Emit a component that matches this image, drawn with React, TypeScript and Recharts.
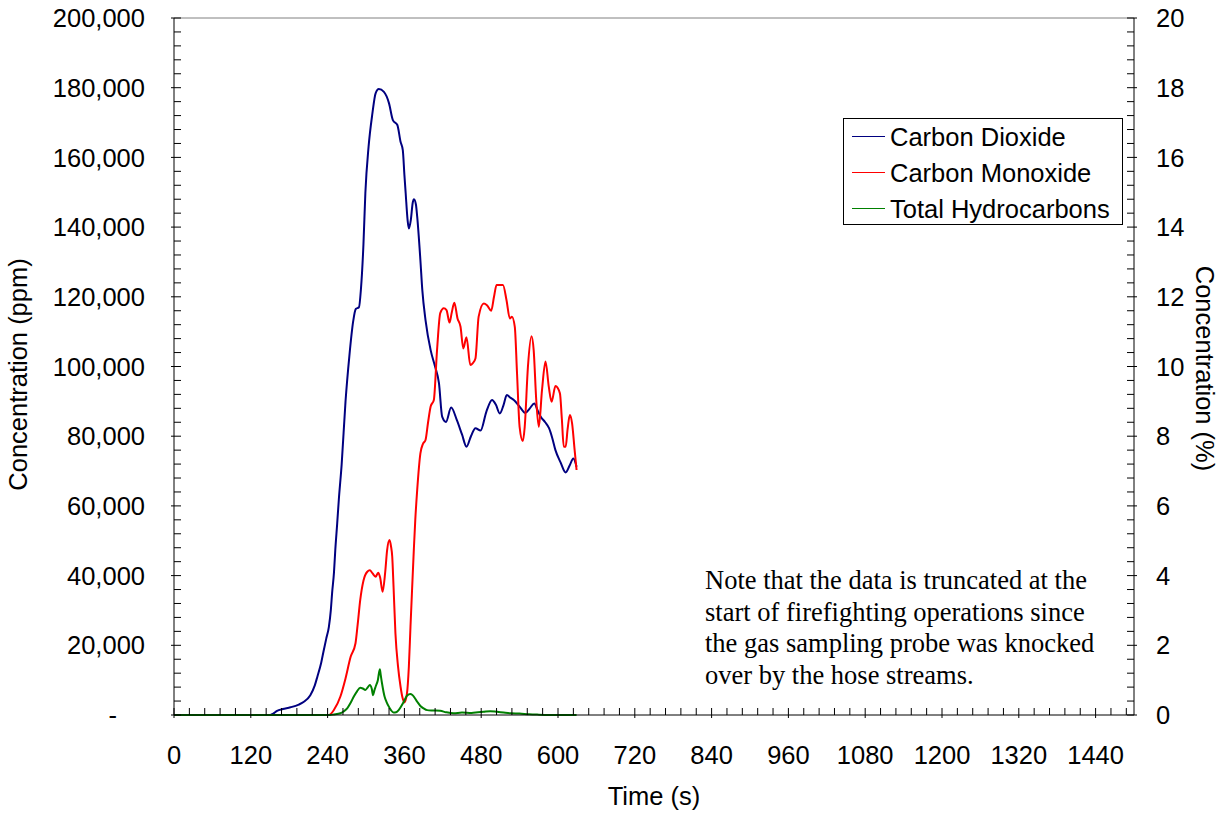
import React from 'react';
import { LineChart, Line, XAxis, YAxis, ReferenceLine, Legend } from 'recharts';

// [time (s), concentration (ppm)]
const carbonDioxide: [number, number][] = [
  [0, 0], [60, 0], [150, 0], [155, 400], [161, 1200], [170, 1700], [182, 2200], [195, 3000],
  [203, 3800], [213, 5700], [220, 8500], [224, 11000], [230, 15000], [234, 18600], [238, 22000],
  [242, 25300], [245, 30000], [247, 34900], [250, 41000], [252, 47300], [255, 55000], [257.5, 61700],
  [262, 72000], [268, 90000], [274, 103000], [280, 113000], [284, 116500], [289, 117000],
  [292, 122000], [296, 135000], [299, 149800], [304, 163000], [310, 172600], [315, 178400],
  [320, 179600], [328, 178800], [336, 175500], [342, 170700], [349, 169300], [354, 164500],
  [357.5, 162100], [360, 155000], [362, 149700], [365, 142000], [367, 139600], [370, 142000],
  [373, 147000], [375, 148000], [378, 146500], [380, 143000], [385, 130500], [388, 121900],
  [393, 113300], [401, 104700], [408, 99900], [414, 95200], [419, 85600], [425, 84100],
  [433, 88200], [442, 84600], [450, 80500], [457, 77000], [464, 80000], [471, 82300],
  [479, 81600], [488, 87000], [497, 90400], [503, 89000], [509, 86500], [515, 89000],
  [520, 91800], [526, 91000], [531, 90400], [540, 88500], [549, 86700], [556, 88000],
  [563, 89400], [568, 87500], [573, 85600], [580, 84000], [586, 82300], [591, 79500],
  [596, 76000], [604, 72500], [612, 69600], [618, 71500], [624, 73600], [629, 71200],
];

const carbonMonoxide: [number, number][] = [
  [0, 0], [242, 0], [250, 1500], [260, 5300], [268, 10500], [276, 16700], [283.6, 20600],
  [287, 26000], [291, 33000], [296, 38500], [302, 41100], [306, 41500], [310, 40700],
  [315, 39700], [319, 40800], [322, 39500], [326, 35400], [330, 41000], [333, 47300],
  [336.7, 50200], [339, 48500], [341, 45400], [343, 37000], [346, 23400], [350, 14000],
  [354, 8100], [357, 5000], [360, 3600], [364, 6200], [367, 14000], [369.5, 25300],
  [372, 36000], [374.7, 47300], [377, 56000], [380, 64600], [385, 75100], [389, 77800],
  [393, 78900], [397, 84000], [401, 88500], [406, 90400], [411, 104700], [416, 115300],
  [421.6, 116700], [425.8, 116200], [430.5, 112600], [434, 115500], [438, 118300],
  [443, 113800], [447.7, 111400], [452, 105200], [457, 108400], [463, 100400], [467, 101000],
  [471, 102300], [476, 114300], [484, 118100], [489, 117600], [495.6, 116000], [500, 120000],
  [504, 123400], [514, 123400], [519.5, 119100], [524.7, 113800], [528, 114300],
  [532.5, 111400], [536, 98000], [540, 82700], [545, 78600], [548, 82700], [553, 99900],
  [558.6, 108700], [562, 104700], [566, 90400], [570, 82700], [575, 93200], [580.5, 101400],
  [585.6, 94200], [590, 89900], [596, 94400], [603, 92300], [606, 85000], [609, 77000],
  [612, 77000], [615, 82000], [618.5, 86100], [622, 83700], [626, 76000], [629, 70300],
];

const totalHydrocarbons: [number, number][] = [
  [0, 0], [243, 0], [250, 150], [260, 500], [265, 1000], [270.6, 1900], [276, 3500],
  [281, 5300], [286, 6800], [291, 7800], [295, 7600], [299, 7200], [303, 8000], [306, 8600],
  [309, 7500], [311, 5700], [313, 7000], [315, 8100], [318.5, 10000], [321.6, 13100],
  [323, 11500], [325, 9100], [329, 5300], [332, 3800], [335.7, 2400], [339, 1400], [343, 700],
  [347, 800], [351, 1400], [355, 2500], [359, 3800], [364, 5500], [369.5, 6000], [372, 5800],
  [374.7, 5300], [380, 3800], [385, 2600], [390, 1900], [395.6, 1400], [405, 1300],
  [416, 1200], [425, 800], [437, 500], [450, 700], [465, 600], [475, 800], [484, 950],
  [494, 1100], [505, 900], [515, 700], [526, 500], [540, 400], [555, 200], [570, 100],
  [600, 0], [629, 0],
];

const xMajorTicks = [0, 120, 240, 360, 480, 600, 720, 840, 960, 1080, 1200, 1320, 1440];
const xMinorStep = 24;
const ppmMajorTicks = [0, 20000, 40000, 60000, 80000, 100000, 120000, 140000, 160000, 180000, 200000];
const ppmMinorStep = 4000;
const pctMajorTicks = [0, 2, 4, 6, 8, 10, 12, 14, 16, 18, 20];

const noteLines = [
  'Note that the data is truncated at the',
  'start of firefighting operations since',
  'the gas sampling probe was knocked',
  'over by the hose streams.',
];

const SANS = '"Liberation Sans", Arial, sans-serif';
const SERIF = '"Liberation Serif", "Times New Roman", serif';
const FS = 25.5;

const toRows = (pts: [number, number][]) => pts.map(([t, v]) => ({ t, v }));

const xTicks = Array.from({ length: Math.floor(1500 / xMinorStep) + 1 }, (_, i) => i * xMinorStep);
const ppmTicks = Array.from({ length: 200000 / ppmMinorStep + 1 }, (_, i) => i * ppmMinorStep);
const pctTicks = Array.from({ length: 51 }, (_, i) => Math.round(i * 4) / 10);

const XTick = (props: any) => {
  const { x, y, payload } = props;
  const major = xMajorTicks.includes(payload.value);
  return (
    <g>
      <line x1={x} x2={x} y1={y + (major ? 3 : 0)} y2={y - 7} stroke="#000" />
      {major && (
        <text x={x} y={y + 49} textAnchor="middle" fontSize={FS} fontFamily={SANS} fill="#000">
          {payload.value}
        </text>
      )}
    </g>
  );
};

const PpmTick = (props: any) => {
  const { x, y, payload } = props;
  const major = ppmMajorTicks.includes(payload.value);
  return (
    <g>
      <line x1={x - (major ? 3 : 0)} x2={x + 7} y1={y} y2={y} stroke="#000" />
      {major && (
        <text
          x={payload.value === 0 ? x - 57 : x - 29}
          y={y}
          dy="0.36em"
          textAnchor="end"
          fontSize={FS}
          fontFamily={SANS}
          fill="#000"
        >
          {payload.value === 0 ? '-' : payload.value.toLocaleString('en-US')}
        </text>
      )}
    </g>
  );
};

const PctTick = (props: any) => {
  const { x, y, payload } = props;
  const major = pctMajorTicks.some((m) => Math.abs(m - payload.value) < 1e-6);
  return (
    <g>
      <line x1={x + (major ? 3 : 0)} x2={x - 7} y1={y} y2={y} stroke="#000" />
      {major && (
        <text x={x + 22} y={y} dy="0.36em" textAnchor="start" fontSize={FS} fontFamily={SANS} fill="#000">
          {Math.round(payload.value)}
        </text>
      )}
    </g>
  );
};

const LegendBox = (props: any) => {
  const items = (props.payload || []) as any[];
  return (
    <div
      style={{
        position: 'relative',
        width: 280,
        height: 107,
        boxSizing: 'border-box',
        border: '1px solid #000',
        background: '#fff',
        fontFamily: SANS,
        fontSize: FS,
        color: '#000',
      }}
    >
      {items.map((it, i) => (
        <div key={it.value} style={{ position: 'absolute', left: 0, top: 35.8 * i, height: 36, width: '100%' }}>
          <div style={{ position: 'absolute', left: 8, top: 17, width: 33, height: 0, borderTop: `1.5px solid ${it.color}` }} />
          <div style={{ position: 'absolute', left: 46, top: 0, lineHeight: '36px', whiteSpace: 'nowrap' }}>{it.value}</div>
        </div>
      ))}
    </div>
  );
};

export default function App() {
  return (
    <div style={{ position: 'absolute', left: 0, top: 0, width: 1228, height: 813, background: '#fff' }}>
      <LineChart width={1228} height={813} margin={{ top: 18, right: 0, bottom: 0, left: 0 }}>
        <XAxis
          dataKey="t"
          type="number"
          domain={[0, 1500]}
          ticks={xTicks}
          interval={0}
          height={98}
          tickSize={0}
          tickMargin={0}
          tickLine={false}
          tick={<XTick />}
          axisLine={{ stroke: '#000' }}
          allowDuplicatedCategory={false}
          label={(p: any) => {
            const vb = p.viewBox || { x: 174, y: 715, width: 960, height: 98 };
            return (
              <text x={vb.x + vb.width / 2} y={vb.y + 90} textAnchor="middle" fontSize={FS} fontFamily={SANS} fill="#000">
                Time (s)
              </text>
            );
          }}
        />
        <YAxis
          yAxisId="ppm"
          type="number"
          domain={[0, 200000]}
          ticks={ppmTicks}
          interval={0}
          width={174}
          tickSize={0}
          tickMargin={0}
          tickLine={false}
          tick={<PpmTick />}
          axisLine={{ stroke: '#000' }}
          label={(p: any) => {
            const vb = p.viewBox || { x: 0, y: 18, width: 174, height: 697 };
            const cx = vb.x + 18;
            const cy = vb.y + vb.height / 2 + 8;
            return (
              <text
                x={cx}
                y={cy}
                transform={`rotate(-90 ${cx} ${cy})`}
                textAnchor="middle"
                dy="0.36em"
                fontSize={FS}
                fontFamily={SANS}
                fill="#000"
              >
                Concentration (ppm)
              </text>
            );
          }}
        />
        <YAxis
          yAxisId="pct"
          orientation="right"
          type="number"
          domain={[0, 20]}
          ticks={pctTicks}
          interval={0}
          width={94}
          tickSize={0}
          tickMargin={0}
          tickLine={false}
          tick={<PctTick />}
          axisLine={{ stroke: '#000' }}
          label={(p: any) => {
            const vb = p.viewBox || { x: 1134, y: 18, width: 94, height: 697 };
            const cx = vb.x + 71;
            const cy = vb.y + vb.height / 2 + 2;
            return (
              <text
                x={cx}
                y={cy}
                transform={`rotate(90 ${cx} ${cy})`}
                textAnchor="middle"
                dy="0.36em"
                fontSize={FS}
                fontFamily={SANS}
                fill="#000"
              >
                Concentration (%)
              </text>
            );
          }}
        />
        <ReferenceLine yAxisId="pct" y={0} stroke="none" ifOverflow="extendDomain" />
        <ReferenceLine yAxisId="pct" y={20} stroke="#808080" ifOverflow="extendDomain" />
        <Legend
          layout="vertical"
          align="center"
          verticalAlign="middle"
          content={<LegendBox />}
          wrapperStyle={{ position: 'absolute', left: 843, top: 118, width: 280, height: 107 }}
        />
        <Line
          yAxisId="ppm"
          data={toRows(carbonDioxide)}
          dataKey="v"
          name="Carbon Dioxide"
          type="monotone"
          stroke="#000080"
          strokeWidth={2}
          dot={false}
          isAnimationActive={false}
        />
        <Line
          yAxisId="ppm"
          data={toRows(carbonMonoxide)}
          dataKey="v"
          name="Carbon Monoxide"
          type="monotone"
          stroke="#ff0000"
          strokeWidth={2}
          dot={false}
          isAnimationActive={false}
        />
        <Line
          yAxisId="ppm"
          data={toRows(totalHydrocarbons)}
          dataKey="v"
          name="Total Hydrocarbons"
          type="monotone"
          stroke="#008000"
          strokeWidth={2}
          dot={false}
          isAnimationActive={false}
        />
      </LineChart>
      <div
        style={{
          position: 'absolute',
          left: 705,
          top: 565,
          fontFamily: SERIF,
          fontSize: 26.5,
          lineHeight: '31.6px',
          color: '#000',
          whiteSpace: 'nowrap',
        }}
      >
        {noteLines.map((l) => (
          <div key={l}>{l}</div>
        ))}
      </div>
    </div>
  );
}
